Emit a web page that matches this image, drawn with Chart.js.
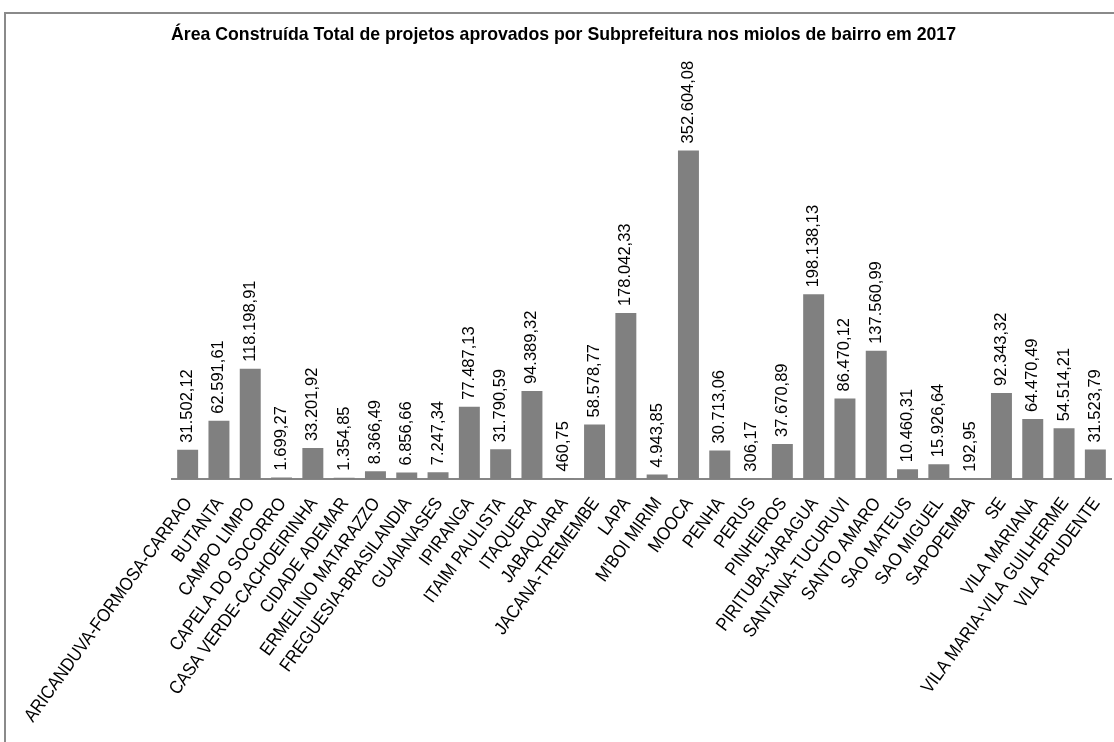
<!DOCTYPE html>
<html>
<head>
<meta charset="utf-8">
<script src="https://cdn.jsdelivr.net/npm/chart.js@4/dist/chart.umd.min.js"></script>
<style>
  html, body { margin: 0; padding: 0; background: #fff; overflow: hidden; }
  #wrap { position: relative; width: 1114px; height: 742px; }
  #frame { position: absolute; left: 4px; top: 12px; width: 2000px; height: 2000px;
           border-top: 2px solid #8a8a8a; border-left: 2px solid #8a8a8a; pointer-events: none; }
</style>
</head>
<body>
<div id="wrap">
  <canvas id="c" width="1114" height="742"></canvas>
  <div id="frame"></div>
</div>
<script>
const titleText = 'Área Construída Total de projetos aprovados por Subprefeitura nos miolos de bairro em 2017';
const categories = [
  'ARICANDUVA-FORMOSA-CARRAO', 'BUTANTA', 'CAMPO LIMPO', 'CAPELA DO SOCORRO',
  'CASA VERDE-CACHOEIRINHA', 'CIDADE ADEMAR', 'ERMELINO MATARAZZO', 'FREGUESIA-BRASILANDIA',
  'GUAIANASES', 'IPIRANGA', 'ITAIM PAULISTA', 'ITAQUERA', 'JABAQUARA', 'JACANA-TREMEMBE',
  'LAPA', "M'BOI MIRIM", 'MOOCA', 'PENHA', 'PERUS', 'PINHEIROS', 'PIRITUBA-JARAGUA',
  'SANTANA-TUCURUVI', 'SANTO AMARO', 'SAO MATEUS', 'SAO MIGUEL', 'SAPOPEMBA', 'SE',
  'VILA MARIANA', 'VILA MARIA-VILA GUILHERME', 'VILA PRUDENTE'
];
const areaValues = [
  31502.12, 62591.61, 118198.91, 1699.27,
  33201.92, 1354.85, 8366.49, 6856.66,
  7247.34, 77487.13, 31790.59, 94389.32, 460.75, 58578.77,
  178042.33, 4943.85, 352604.08, 30713.06, 306.17, 37670.89, 198138.13,
  86470.12, 137560.99, 10460.31, 15926.64, 192.95, 92343.32,
  64470.49, 54514.21, 31523.79
];
const yMin = 0;
const yMax = 400000;

function fmtBR(v) {
  const parts = v.toFixed(2).split('.');
  const intPart = parts[0].replace(/\B(?=(\d{3})+(?!\d))/g, '.');
  return intPart + ',' + parts[1];
}

const FONT = "'Liberation Sans', Arial, sans-serif";

const valueLabels = {
  id: 'valueLabels',
  afterDatasetsDraw(chart) {
    const ctx = chart.ctx;
    const meta = chart.getDatasetMeta(0);
    const data = chart.data.datasets[0].data;
    ctx.save();
    ctx.fillStyle = '#000';
    ctx.font = '16.5px ' + FONT;
    ctx.textAlign = 'left';
    ctx.textBaseline = 'middle';
    meta.data.forEach((el, i) => {
      ctx.save();
      ctx.translate(el.x, el.y - 7);
      ctx.rotate(-Math.PI / 2);
      ctx.fillText(fmtBR(data[i]), 0, 0);
      ctx.restore();
    });
    ctx.restore();
  }
};

const categoryLabels = {
  id: 'categoryLabels',
  afterDraw(chart) {
    const ctx = chart.ctx;
    const xs = chart.scales.x;
    ctx.save();
    ctx.fillStyle = '#000';
    ctx.font = '16.5px ' + FONT;
    ctx.textAlign = 'right';
    ctx.textBaseline = 'middle';
    const ang = -54 * Math.PI / 180;
    chart.data.labels.forEach((lab, i) => {
      const x = xs.getPixelForTick(i);
      ctx.save();
      ctx.translate(x + 1, xs.top + 21);
      ctx.rotate(ang);
      ctx.scale(1, 1.12);
      ctx.fillText(lab, 0, 0);
      ctx.restore();
    });
    ctx.restore();
  }
};

new Chart(document.getElementById('c'), {
  type: 'bar',
  data: {
    labels: categories,
    datasets: [{
      data: areaValues,
      backgroundColor: '#808080',
      borderWidth: 0,
      barPercentage: 0.67,
      categoryPercentage: 1.0
    }]
  },
  options: {
    responsive: false,
    animation: false,
    devicePixelRatio: 1,
    layout: { padding: { left: 16, right: 3, top: 0, bottom: 0 } },
    plugins: {
      legend: { display: false },
      tooltip: { enabled: false },
      title: {
        display: true,
        text: titleText,
        color: '#000',
        font: { family: FONT, size: 17.7, weight: 'bold' },
        padding: { top: 24, bottom: 61 }
      }
    },
    scales: {
      x: {
        grid: { display: false, drawTicks: false },
        border: { display: true, color: '#868686', width: 2 },
        ticks: { display: false, autoSkip: false },
        afterFit(s) { s.height = 742 - 479; s.paddingLeft = 0; s.paddingRight = 0; }
      },
      y: {
        display: true,
        min: yMin, max: yMax,
        grid: { display: false },
        border: { display: false },
        ticks: { display: false },
        afterFit(s) { s.width = 156; }
      }
    }
  },
  plugins: [valueLabels, categoryLabels]
});
</script>
</body>
</html>
